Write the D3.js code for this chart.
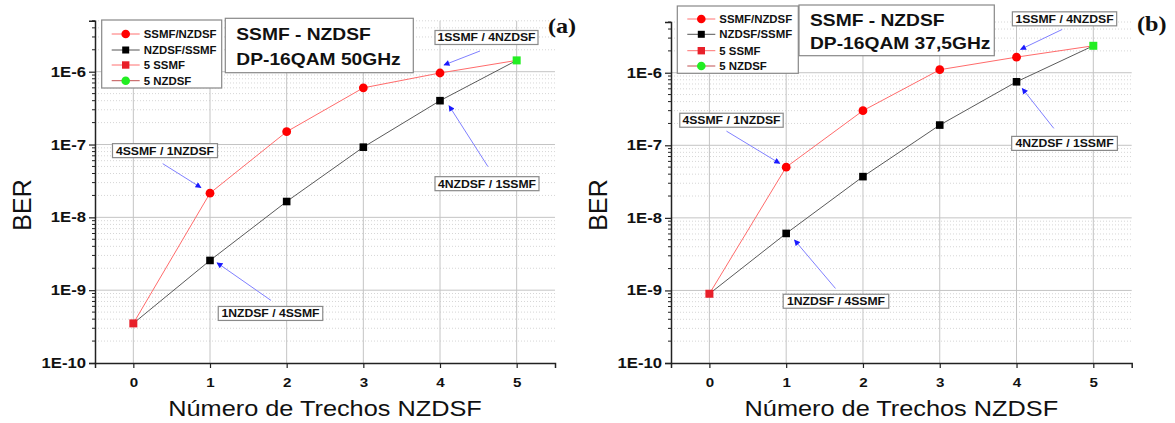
<!DOCTYPE html>
<html><head><meta charset="utf-8">
<script src="https://cdn.jsdelivr.net/npm/d3@7"></script>
<style>
body{margin:0;background:#fff;}
svg{display:block;}
</style></head><body>
<svg id="c" width="1175" height="423" font-family="Liberation Sans, Arial, sans-serif"></svg>
<script>
// ---- data ----
const spans = [0, 1, 2, 3, 4, 5];
const yTickValues = [1e-10, 1e-9, 1e-8, 1e-7, 1e-6];
const yTickLabels = ["1E-10", "1E-9", "1E-8", "1E-7", "1E-6"];
const legendLabels = ["SSMF/NZDSF", "NZDSF/SSMF", "5 SSMF", "5 NZDSF"];
const xTitle = "Número de Trechos NZDSF";
const yTitle = "BER";

// panel (a): 50 GHz
const a_ssmfNzdsf = [3.5e-10, 2.15e-8, 1.5e-7, 6.0e-7, 9.6e-7, 1.43e-6];
const a_nzdsfSsmf = [3.5e-10, 2.56e-9, 1.65e-8, 9.2e-8, 4.0e-7, 1.43e-6];
const a_5ssmf = [3.5e-10];
const a_5nzdsf = [1.43e-6];
// panel (b): 37,5 GHz
const b_ssmfNzdsf = [9.0e-10, 5.0e-8, 3.0e-7, 1.1e-6, 1.64e-6, 2.35e-6];
const b_nzdsfSsmf = [9.0e-10, 6.1e-9, 3.7e-8, 1.9e-7, 7.5e-7, 2.35e-6];
const b_5ssmf = [9.0e-10];
const b_5nzdsf = [2.35e-6];

const annoLabels = ["1SSMF / 4NZDSF", "4NZDSF / 1SSMF", "4SSMF / 1NZDSF", "1NZDSF / 4SSMF"];

const panels = [
  {x0:95, x1:555, yTop:20.8, title:["SSMF - NZDSF","DP-16QAM 50GHz"], tag:"(a)",
   red:a_ssmfNzdsf, black:a_nzdsfSsmf, s5:a_5ssmf, n5:a_5nzdsf,
   legend:{x:101.7,y:20,w:120,h:68,rows:[34,50,65,80.7]},
   tbox:{x:225.3,y:18.3,w:188,h:54.4,b1:40,b2:65},
   tagPos:[548,33],
   annos:[
     {s:"red",i:4,e:[4,-8],st:[40,-22],c:[46.5,-35.5],w:103},
     {s:"black",i:4,e:[9,5],st:[48,66],c:[47,83],w:104},
     {s:"red",i:1,e:[-9,-5.5],st:[-47.3,-29.5],c:[-45,-42.5],w:105},
     {s:"black",i:1,e:[7,2.3],st:[61,40],c:[60.5,53],w:104.5}
   ]},
  {x0:671, x1:1131.7, yTop:22, title:["SSMF - NZDSF","DP-16QAM 37,5GHz"], tag:"(b)",
   red:b_ssmfNzdsf, black:b_nzdsfSsmf, s5:b_5ssmf, n5:b_5nzdsf,
   legend:{x:677.3,y:6,w:121,h:67.3,rows:[19,34.3,50.7,66]},
   tbox:{x:799,y:5,w:195.3,h:50.7,b1:25.5,b2:49},
   tagPos:[1137,31],
   annos:[
     {s:"red",i:4,e:[4,-7.7],st:[45.7,-27.7],c:[48,-38.3],w:104.3},
     {s:"black",i:4,e:[5.7,6.6],st:[37.3,46.6],c:[48,61.6],w:105.7},
     {s:"red",i:1,e:[-6.4,-3.7],st:[-59.7,-36],c:[-54.7,-46.9],w:103.4},
     {s:"black",i:1,e:[8.3,6.6],st:[49.3,55],c:[49.8,67.8],w:105.6}
   ]}
];

const svg = d3.select("#c");
const defs = svg.append("defs");
defs.append("marker").attr("id","arr").attr("viewBox","0 0 10 10").attr("refX",9).attr("refY",5)
  .attr("markerWidth",7).attr("markerHeight",6).attr("markerUnits","userSpaceOnUse").attr("orient","auto")
  .append("path").attr("d","M0,0 L10,5 L0,10 z").attr("fill","#1a1aff");

function stretch(sel, k){
  sel.each(function(){ const w=this.getComputedTextLength(); this.setAttribute("textLength", w*k); this.setAttribute("lengthAdjust","spacingAndGlyphs"); });
  return sel;
}

const yBottom = 363;
panels.forEach(p => {
  const x = d3.scaleLinear().domain([-0.5, 5.5]).range([p.x0, p.x1]);
  const y = d3.scaleLog().domain([1e-10, 5e-6]).range([yBottom, p.yTop]);
  const g = svg.append("g");

  const minor = [];
  for (let e=-10;e<=-6;e++) for (let m=2;m<=9;m++){ const v=m*Math.pow(10,e); if (v<=5e-6) minor.push(v); }
  g.selectAll(".mg").data(minor).enter().append("line")
    .attr("x1",p.x0).attr("x2",p.x1).attr("y1",d=>y(d)).attr("y2",d=>y(d))
    .attr("stroke","#d6d6d6").attr("stroke-width",1).attr("stroke-dasharray","1,2");
  g.selectAll(".Mg").data(yTickValues.slice(1)).enter().append("line")
    .attr("x1",p.x0).attr("x2",p.x1).attr("y1",d=>y(d)).attr("y2",d=>y(d))
    .attr("stroke","#c4c4c4").attr("stroke-width",1);
  g.selectAll(".vg").data(spans).enter().append("line")
    .attr("x1",d=>x(d)).attr("x2",d=>x(d)).attr("y1",p.yTop).attr("y2",yBottom)
    .attr("stroke","#c4c4c4").attr("stroke-width",1);

  const yAx = g.append("g").attr("transform",`translate(${p.x0},0)`)
    .call(d3.axisLeft(y).tickValues(yTickValues).tickFormat((d,i)=>yTickLabels[i]).tickSize(6).tickPadding(3));
  yAx.attr("font-family","Liberation Sans, Arial, sans-serif");
  yAx.select(".domain").attr("stroke","#222").attr("stroke-width",1.5);
  yAx.selectAll(".tick line").attr("stroke","#222").attr("stroke-width",1.2);
  yAx.selectAll("text").attr("font-size",14).attr("font-weight","bold").attr("fill","#111");
  stretch(yAx.selectAll("text"),1.19);
  g.selectAll(".mt").data(minor).enter().append("line")
    .attr("x1",p.x0-3).attr("x2",p.x0).attr("y1",d=>y(d)).attr("y2",d=>y(d))
    .attr("stroke","#222").attr("stroke-width",1);

  const xAx = g.append("g").attr("transform",`translate(0,${yBottom})`)
    .call(d3.axisBottom(x).tickValues(spans).tickFormat(d3.format("d")).tickSize(5).tickPadding(9));
  xAx.attr("font-family","Liberation Sans, Arial, sans-serif");
  xAx.select(".domain").attr("stroke","#222").attr("stroke-width",1.5);
  xAx.selectAll(".tick line").attr("stroke","#222").attr("stroke-width",1.2);
  xAx.selectAll("text").attr("font-size",13.5).attr("font-weight","bold").attr("fill","#111");
  stretch(xAx.selectAll("text"),1.12);

  const xt = g.append("text").attr("x",(p.x0+p.x1)/2).attr("y",416).attr("text-anchor","middle")
    .attr("font-size",22).attr("fill","#111").text(xTitle);
  stretch(xt,1.15);
  g.append("text").attr("transform",`translate(${p.x0-64},205) rotate(-90)`).attr("text-anchor","middle")
    .attr("font-size",25).attr("fill","#111").text(yTitle);

  const line = d3.line().x((d,i)=>x(spans[i])).y(d=>y(d));
  g.append("path").attr("d",line(p.red)).attr("fill","none").attr("stroke","#ff6b6b").attr("stroke-width",1);
  g.append("path").attr("d",line(p.black)).attr("fill","none").attr("stroke","#5a5a5a").attr("stroke-width",1);

  g.selectAll(".bs").data(p.black.slice(1,5)).enter().append("rect")
    .attr("x",(d,i)=>x(spans[i+1])-3.8).attr("y",d=>y(d)-3.8).attr("width",7.6).attr("height",7.6).attr("fill","#000");
  g.selectAll(".rc").data(p.red.slice(1,5)).enter().append("circle")
    .attr("cx",(d,i)=>x(spans[i+1])).attr("cy",d=>y(d)).attr("r",4.4).attr("fill","#ff0000");
  g.selectAll(".s5").data(p.s5).enter().append("rect")
    .attr("x",x(0)-4).attr("y",d=>y(d)-4).attr("width",8).attr("height",8).attr("fill","#e8202a");
  g.selectAll(".n5").data(p.n5).enter().append("rect")
    .attr("x",x(5)-4).attr("y",d=>y(d)-4).attr("width",8).attr("height",8).attr("fill","#22ee22");

  p.annos.forEach((a,k) => {
    const arr = a.s==="red" ? p.red : p.black;
    const px = x(spans[a.i]), py = y(arr[a.i]);
    g.append("line").attr("x1",px+a.st[0]).attr("y1",py+a.st[1]).attr("x2",px+a.e[0]).attr("y2",py+a.e[1])
      .attr("stroke","#8080ff").attr("stroke-width",1).attr("marker-end","url(#arr)");
    const cx = px+a.c[0], cy = py+a.c[1];
    g.append("rect").attr("x",cx-a.w/2).attr("y",cy-7).attr("width",a.w).attr("height",14)
      .attr("fill","#fff").attr("stroke","#8a8a8a").attr("stroke-width",1.2);
    const t = g.append("text").attr("x",cx).attr("y",cy+4).attr("text-anchor","middle")
      .attr("font-size",10.5).attr("font-weight","bold").attr("fill","#111").text(annoLabels[k]);
    stretch(t,1.16);
  });

  const L = p.legend;
  g.append("rect").attr("x",L.x).attr("y",L.y).attr("width",L.w).attr("height",L.h)
    .attr("fill","#fff").attr("stroke","#888").attr("stroke-width",1.2);
  const legLine = ["#ff7070","#555","#ff7070","#c05050"];
  legendLabels.forEach((lab,i)=>{
    const ry = L.rows[i], lx = L.x+10;
    g.append("line").attr("x1",lx).attr("x2",lx+28).attr("y1",ry).attr("y2",ry).attr("stroke",legLine[i]).attr("stroke-width",1);
    const mx = lx+14;
    if (i===0) g.append("circle").attr("cx",mx).attr("cy",ry).attr("r",4.3).attr("fill","#ff0000");
    if (i===1) g.append("rect").attr("x",mx-3.5).attr("y",ry-3.5).attr("width",7).attr("height",7).attr("fill","#000");
    if (i===2) g.append("rect").attr("x",mx-3.7).attr("y",ry-3.7).attr("width",7.4).attr("height",7.4).attr("fill","#e8202a");
    if (i===3) g.append("circle").attr("cx",mx).attr("cy",ry).attr("r",4.3).attr("fill","#22ee22");
    const t = g.append("text").attr("x",lx+32).attr("y",ry+4).attr("font-size",10.2).attr("font-weight","bold")
      .attr("fill","#111").text(lab);
    stretch(t,1.12);
  });

  const T = p.tbox;
  g.append("rect").attr("x",T.x).attr("y",T.y).attr("width",T.w).attr("height",T.h)
    .attr("fill","#fff").attr("stroke","#888").attr("stroke-width",1.2);
  [T.b1,T.b2].forEach((b,i)=>{
    const t = g.append("text").attr("x",T.x+11).attr("y",b).attr("font-size",17).attr("font-weight","bold")
      .attr("fill","#111").text(p.title[i]);
    stretch(t,1.13);
  });

  const tg = g.append("text").attr("x",p.tagPos[0]).attr("y",p.tagPos[1]).attr("font-size",21).attr("font-weight","bold")
    .style("font-family","'Liberation Serif', 'Times New Roman', serif").attr("fill","#111").text(p.tag);
  stretch(tg,1.15);
});
</script>
</body></html>
